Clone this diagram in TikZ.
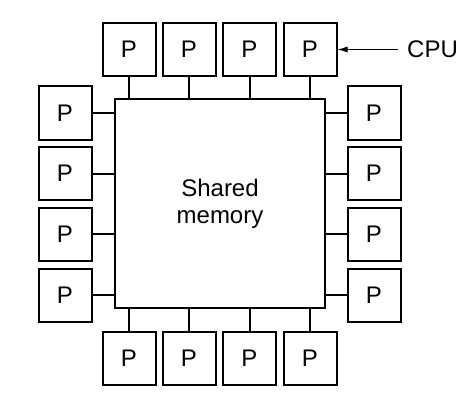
\documentclass[tikz,border=0pt]{standalone}
\usepackage{fontspec}
\setmainfont{Liberation Sans}
\usetikzlibrary{arrows.meta}

\begin{document}
\begin{tikzpicture}[x=1pt, y=-1pt, every node/.style={font=\fontsize{24}{27}\selectfont}, proc/.style={draw, line width=2pt, minimum size=53pt, inner sep=0pt}, bus/.style={line width=2pt}, >={Latex[length=10pt, width=6pt]}]
	\useasboundingbox (0,0) rectangle (474,404);
	\node[draw, line width=2pt, minimum width=210pt, minimum height=209pt, align=center, inner sep=0pt] (mem) at (220,203.5) {Shared\\memory};
	% top row
	\node[proc] (t1) at (129,49.5) {P};
	\node[proc] (t2) at (189,49.5) {P};
	\node[proc] (t3) at (249.5,49.5) {P};
	\node[proc] (t4) at (310,49.5) {P};
	% bottom row
	\node[proc] (b1) at (129,358.5) {P};
	\node[proc] (b2) at (189,358.5) {P};
	\node[proc] (b3) at (249.5,358.5) {P};
	\node[proc] (b4) at (310,358.5) {P};
	% left column
	\node[proc] (l1) at (65,113) {P};
	\node[proc] (l2) at (65,173.5) {P};
	\node[proc] (l3) at (65,234) {P};
	\node[proc] (l4) at (65,295) {P};
	% right column
	\node[proc] (r1) at (374,113) {P};
	\node[proc] (r2) at (374,173.5) {P};
	\node[proc] (r3) at (374,234) {P};
	\node[proc] (r4) at (374,295) {P};
	% links to the memory
	\draw[bus] (t1.south) -- (t1.south |- mem.north);
	\draw[bus] (t2.south) -- (t2.south |- mem.north);
	\draw[bus] (t3.south) -- (t3.south |- mem.north);
	\draw[bus] (t4.south) -- (t4.south |- mem.north);
	\draw[bus] (b1.north) -- (b1.north |- mem.south);
	\draw[bus] (b2.north) -- (b2.north |- mem.south);
	\draw[bus] (b3.north) -- (b3.north |- mem.south);
	\draw[bus] (b4.north) -- (b4.north |- mem.south);
	\draw[bus] (l1.east) -- (l1.east -| mem.west);
	\draw[bus] (l2.east) -- (l2.east -| mem.west);
	\draw[bus] (l3.east) -- (l3.east -| mem.west);
	\draw[bus] (l4.east) -- (l4.east -| mem.west);
	\draw[bus] (r1.west) -- (r1.west -| mem.east);
	\draw[bus] (r2.west) -- (r2.west -| mem.east);
	\draw[bus] (r3.west) -- (r3.west -| mem.east);
	\draw[bus] (r4.west) -- (r4.west -| mem.east);
	% label
	\node[anchor=west, inner xsep=9pt, inner ysep=0pt] (cpu) at (398,49.5) {CPU};
	\draw[->, line width=1pt] (cpu.west) -- (t4.east);
\end{tikzpicture}
\end{document}
